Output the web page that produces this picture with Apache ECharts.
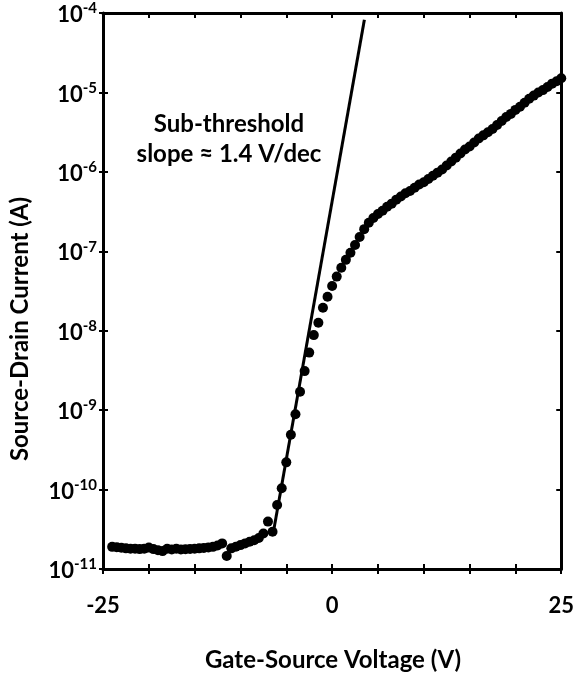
<!DOCTYPE html>
<html>
<head>
<meta charset="utf-8">
<script src="https://cdn.jsdelivr.net/npm/echarts@6/dist/echarts.min.js"></script>
<style>html,body{margin:0;padding:0;background:#fff;}#c{width:577px;height:673px;}</style>
</head>
<body>
<div id="c"></div>
<script>
// Gate-source voltage (V)
const gateVoltage = [
  -24,-23.5,-23,-22.5,-22,-21.5,-21,-20.5,-20,-19.5,-19,-18.5,-18,-17.5,-17,-16.5,-16,-15.5,-15,-14.5,-14,-13.5,-13,-12.5,-12,
  -11.5,-11,-10.5,-10,-9.5,-9,-8.5,-8,-7.5,-7,-6.5,-6,
  -5.5,-5,-4.5,-4,-3.5,-3,-2.5,-2,-1.5,-1,-0.5,0,
  0.5,1,1.5,2,2.5,3,
  3.5,4,4.5,5,5.5,6,6.5,7,7.5,8,8.5,9,9.5,10,10.5,11,11.5,12,12.5,13,13.5,14,14.5,15,15.5,16,16.5,17,17.5,18,18.5,19,19.5,20,20.5,21,21.5,22,22.5,23,23.5,24,24.5,25
];
// Source-drain current (A)
const drainCurrent = [
  1.90e-11,1.88e-11,1.85e-11,1.82e-11,1.80e-11,1.80e-11,1.78e-11,1.80e-11,1.86e-11,1.78e-11,1.72e-11,1.68e-11,1.80e-11,1.76e-11,1.80e-11,1.76e-11,1.77e-11,1.79e-11,1.80e-11,1.82e-11,1.84e-11,1.87e-11,1.90e-11,1.98e-11,2.10e-11,
  1.46e-11,1.82e-11,1.91e-11,2.00e-11,2.10e-11,2.20e-11,2.30e-11,2.45e-11,2.80e-11,3.95e-11,2.95e-11,6.40e-11,
  1.04e-10,2.20e-10,4.90e-10,8.90e-10,1.70e-9,3.10e-9,5.30e-9,8.80e-9,1.26e-8,1.95e-8,2.68e-8,3.66e-8,
  4.80e-8,6.20e-8,7.80e-8,9.60e-8,1.20e-7,1.51e-7,
  1.90e-7,2.29e-7,2.63e-7,2.95e-7,3.24e-7,3.63e-7,3.98e-7,4.47e-7,4.90e-7,5.37e-7,5.75e-7,6.31e-7,6.92e-7,7.41e-7,8.13e-7,8.91e-7,9.77e-7,
  1.07e-6,1.20e-6,1.35e-6,1.51e-6,1.70e-6,1.91e-6,2.09e-6,2.34e-6,2.63e-6,2.88e-6,3.16e-6,3.47e-6,3.89e-6,4.37e-6,4.90e-6,5.37e-6,6.03e-6,6.61e-6,7.41e-6,8.32e-6,9.12e-6,1.00e-5,1.07e-5,1.17e-5,1.29e-5,1.38e-5,1.51e-5
];
// Sub-threshold fit line end points
const fitVoltage = [-6.37, 3.52];
const fitCurrent = [3.1e-11, 8.2e-5];
// Axis ticks
const xTickLabels = [-25, 0, 25];
const yMin = 1e-11, yMax = 1e-4;

const FONT = 'Lato';
const chart = echarts.init(document.getElementById('c'), null, {renderer: 'canvas'});
const scatterData = gateVoltage.map((v, i) => [v, drainCurrent[i]]);
const fitData = fitVoltage.map((v, i) => [v, fitCurrent[i]]);

const axisLine = {show: true, onZero: false, lineStyle: {color: '#000', width: 3}};
const baseX = {type: 'value', min: -25, max: 25, interval: 5, splitLine: {show: false}, axisLine: axisLine};
const baseY = {type: 'log', logBase: 10, min: yMin, max: yMax, splitLine: {show: false}, axisLine: axisLine, minorTick: {show: false}};
const tickStyle = {color: '#000', width: 2};

chart.setOption({
  animation: false,
  backgroundColor: '#fff',
  grid: {left: 103, right: 14, top: 13, bottom: 104, containLabel: false},
  xAxis: [
    Object.assign({}, baseX, {
      position: 'bottom',
      axisTick: {show: true, inside: true, length: 5, lineStyle: tickStyle},
      axisLabel: {
        margin: 26, color: '#000', fontFamily: FONT, fontWeight: 'bold', fontSize: 22,
        formatter: v => (xTickLabels.indexOf(v) >= 0 ? String(v) : '')
      }
    }),
    Object.assign({}, baseX, {
      position: 'top',
      axisTick: {show: true, inside: true, length: 5, lineStyle: tickStyle},
      axisLabel: {show: false}
    }),
    Object.assign({}, baseX, {
      position: 'bottom',
      axisLine: {show: false, onZero: false},
      axisTick: {show: true, inside: false, length: 5, lineStyle: tickStyle},
      axisLabel: {show: false}
    })
  ],
  yAxis: [
    Object.assign({}, baseY, {
      position: 'left',
      axisTick: {show: true, inside: true, length: 5, lineStyle: tickStyle},
      axisLabel: {
        margin: 6, color: '#000',
        formatter: v => '{a|10}{b|' + Math.round(Math.log10(v)) + '}',
        rich: {
          a: {fontFamily: FONT, fontWeight: 'bold', fontSize: 22, lineHeight: 24, color: '#000', padding: [4, 0, 0, 0]},
          b: {fontFamily: FONT, fontWeight: 'bold', fontSize: 15, lineHeight: 15, verticalAlign: 'top', color: '#000'}
        }
      }
    }),
    Object.assign({}, baseY, {
      position: 'right',
      axisTick: {show: true, inside: true, length: 5, lineStyle: tickStyle},
      axisLabel: {show: false}
    }),
    Object.assign({}, baseY, {
      position: 'left',
      axisLine: {show: false, onZero: false},
      axisTick: {show: true, inside: false, length: 4, lineStyle: tickStyle},
      axisLabel: {show: false}
    })
  ],
  graphic: [
    {
      type: 'text', x: 333, y: 660,
      style: {text: 'Gate-Source Voltage (V)', fill: '#000', font: 'bold 24px ' + FONT, textAlign: 'center', textVerticalAlign: 'middle'}
    },
    {
      type: 'text', x: 20, y: 329, rotation: Math.PI / 2,
      style: {text: 'Source-Drain Current (A)', fill: '#000', font: 'bold 24px ' + FONT, textAlign: 'center', textVerticalAlign: 'middle'}
    },
    {
      type: 'text', x: 229, y: 124,
      style: {text: 'Sub-threshold', fill: '#000', font: 'bold 24px ' + FONT, textAlign: 'center', textVerticalAlign: 'middle'}
    },
    {
      type: 'text', x: 229, y: 154,
      style: {text: 'slope \u2248 1.4 V/dec', fill: '#000', font: 'bold 24px ' + FONT, textAlign: 'center', textVerticalAlign: 'middle'}
    }
  ],
  series: [
    {
      type: 'line', xAxisIndex: 0, yAxisIndex: 0, data: fitData,
      symbol: 'none', lineStyle: {color: '#000', width: 3}, z: 2, silent: true
    },
    {
      type: 'scatter', xAxisIndex: 0, yAxisIndex: 0, data: scatterData,
      symbol: 'circle', symbolSize: 10, itemStyle: {color: '#000', opacity: 1}, z: 3, silent: true
    }
  ]
});
</script>
</body>
</html>
